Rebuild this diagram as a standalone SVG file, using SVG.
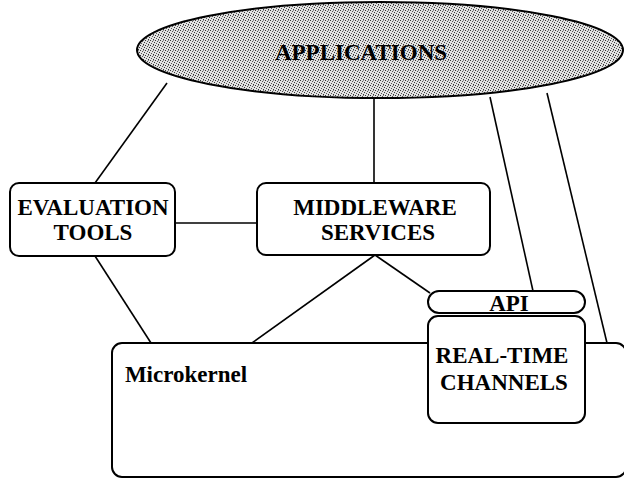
<svg xmlns="http://www.w3.org/2000/svg" width="624" height="479" viewBox="0 0 624 479" font-family="Liberation Serif" font-weight="bold" font-size="23">
<style>
.box{fill:#fff;stroke:#000;stroke-width:2}
.ln{fill:none;stroke:#000;stroke-width:1.6}
.t{fill:#000;text-anchor:middle}
</style>
<defs>
<pattern id="stip" patternUnits="userSpaceOnUse" width="5" height="5">
<rect width="5" height="5" fill="#e2e2e2"/>
<rect x="0" y="0" width="1" height="1" fill="#333"/>
<rect x="2" y="1" width="1" height="1" fill="#555"/>
<rect x="4" y="2" width="1" height="1" fill="#333"/>
<rect x="1" y="3" width="1" height="1" fill="#555"/>
<rect x="3" y="4" width="1" height="1" fill="#333"/>
<rect x="3" y="0" width="1" height="1" fill="#888"/>
</pattern>
</defs>
<g id="connectors">
<line class="ln" x1="167" y1="83" x2="95" y2="183"/>
<line class="ln" x1="374" y1="99" x2="374" y2="183"/>
<line class="ln" x1="490" y1="97" x2="533" y2="291"/>
<line class="ln" x1="547" y1="93" x2="607" y2="343"/>
<line class="ln" x1="175" y1="223" x2="257" y2="223"/>
<line class="ln" x1="95" y1="256" x2="151" y2="343"/>
<line class="ln" x1="375" y1="255" x2="252" y2="343"/>
<line class="ln" x1="375" y1="255" x2="430" y2="293"/>
</g>
<g id="applications">
<ellipse cx="380" cy="50" rx="243" ry="48" fill="url(#stip)" stroke="#000" stroke-width="2"/>
<text class="t" x="361" y="60" font-family="Liberation Serif, serif">APPLICATIONS</text>
</g>
<g id="microkernel">
<rect class="box" x="112" y="343" width="514" height="134" rx="10"/>
<text class="t" x="186" y="382" font-family="Liberation Serif, serif">Microkernel</text>
</g>
<g id="evaluation-tools">
<rect class="box" x="10" y="183" width="165" height="73" rx="9"/>
<text class="t" x="93" y="215" font-family="Liberation Serif, serif">EVALUATION</text>
<text class="t" x="93" y="240" font-family="Liberation Serif, serif">TOOLS</text>
</g>
<g id="middleware-services">
<rect class="box" x="257" y="183" width="233" height="72" rx="9"/>
<text class="t" x="375" y="215" font-family="Liberation Serif, serif">MIDDLEWARE</text>
<text class="t" x="378" y="240" font-family="Liberation Serif, serif">SERVICES</text>
</g>
<g id="api">
<rect class="box" x="428" y="291" width="157" height="22" rx="11"/>
<text class="t" x="509" y="311" font-family="Liberation Serif, serif">API</text>
</g>
<g id="real-time-channels">
<rect class="box" x="428" y="316" width="157" height="107" rx="10"/>
<text class="t" x="502" y="363" font-family="Liberation Serif, serif">REAL-TIME</text>
<text class="t" x="504" y="390" font-family="Liberation Serif, serif">CHANNELS</text>
</g>
</svg>
